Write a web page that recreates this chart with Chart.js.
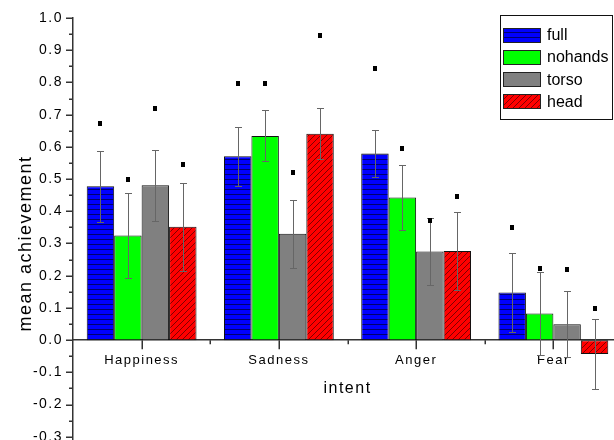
<!DOCTYPE html>
<html>
<head>
<meta charset="utf-8">
<script src="https://cdn.jsdelivr.net/npm/chart.js@4.4.0/dist/chart.umd.min.js"></script>
<style>
    html, body { margin: 0; padding: 0; background: #fff; overflow: hidden; }
    #wrap { position: relative; width: 622px; height: 492px; }
    #legenda {
        position: absolute; left: 500px; top: 15px; width: 111px; height: 103px;
        border: 1px solid #111; background: #fff;
        font-family: 'Liberation Sans', Arial, sans-serif; font-size: 16px; color: #000;
    }
    .item { position: absolute; left: 2px; height: 16px; display: flex; align-items: center; }
    .item canvas { display: block; margin-right: 6px; }
</style>
</head>
<body>
<div id="wrap">
    <canvas id="grafico" width="622" height="492"></canvas>
    <div id="legenda"></div>
</div>
<script>
// Dados
const categorias = ['Happiness', 'Sadness', 'Anger', 'Fear'];
const series = ['full', 'nohands', 'torso', 'head'];

const mediaFull = [0.478, 0.571, 0.579, 0.148];
const erroFull = [0.110, 0.092, 0.072, 0.122];
const marcaFull = [0.673, 0.799, 0.845, 0.350];

const mediaNohands = [0.325, 0.634, 0.443, 0.083];
const erroNohands = [0.131, 0.079, 0.102, 0.130];
const marcaNohands = [0.500, 0.797, 0.597, 0.224];

const mediaTorso = [0.481, 0.330, 0.275, 0.049];
const erroTorso = [0.110, 0.105, 0.104, 0.102];
const marcaTorso = [0.722, 0.521, 0.374, 0.221];

const mediaHead = [0.352, 0.641, 0.277, -0.043];
const erroHead = [0.137, 0.079, 0.120, 0.110];
const marcaHead = [0.547, 0.948, 0.448, 0.099];

const FONTE = "'Liberation Sans', Arial, sans-serif";

function criarPadrao(tipo, cor, corLinha) {
    const c = document.createElement('canvas');
    const p = c.getContext('2d');
    if (tipo === 'horizontal') {
        c.width = 8; c.height = 5;
        p.fillStyle = cor; p.fillRect(0, 0, 8, 5);
        p.fillStyle = corLinha; p.fillRect(0, 4, 8, 1);
    } else if (tipo === 'diagonal') {
        c.width = 6; c.height = 6;
        p.fillStyle = cor; p.fillRect(0, 0, 6, 6);
        p.strokeStyle = corLinha; p.lineWidth = 0.9;
        p.beginPath();
        p.moveTo(-1, 7); p.lineTo(7, -1);
        p.moveTo(-2, 2); p.lineTo(2, -2);
        p.moveTo(4, 8); p.lineTo(8, 4);
        p.stroke();
    } else {
        return cor;
    }
    return p.createPattern(c, 'repeat');
}

const preenchimentos = [
    criarPadrao('horizontal', '#0000ff', '#000070'),
    criarPadrao('solido', '#00ff00'),
    criarPadrao('solido', '#808080'),
    criarPadrao('diagonal', '#ff0000', '#700000')
];

const medias = [mediaFull, mediaNohands, mediaTorso, mediaHead];
const erros = [erroFull, erroNohands, erroTorso, erroHead];
const marcas = [marcaFull, marcaNohands, marcaTorso, marcaHead];

const datasets = series.map((nome, i) => ({
    label: nome,
    data: medias[i],
    erro: erros[i],
    marcador: marcas[i],
    backgroundColor: preenchimentos[i],
    borderColor: '#111',
    borderWidth: 1,
    borderSkipped: false,
    categoryPercentage: 0.8,
    barPercentage: 1.0
}));

// Espaçamento de letras parecido com o original
const pluginEspaco = {
    id: 'espaco',
    beforeLayout(chart) { chart.ctx.letterSpacing = '1.5px'; },
    beforeDraw(chart) { chart.ctx.letterSpacing = '1.5px'; }
};

// Barras de erro e marcadores quadrados
const pluginErros = {
    id: 'barrasErro',
    afterDatasetsDraw(chart) {
        const { ctx } = chart;
        const y = chart.scales.y;
        ctx.save();
        chart.data.datasets.forEach((ds, i) => {
            const meta = chart.getDatasetMeta(i);
            meta.data.forEach((barra, j) => {
                const x = Math.round(barra.x) + 0.5;
                const topo = Math.round(y.getPixelForValue(ds.data[j] + ds.erro[j])) + 0.5;
                const base = Math.round(y.getPixelForValue(ds.data[j] - ds.erro[j])) + 0.5;
                ctx.strokeStyle = '#666';
                ctx.lineWidth = 1;
                ctx.beginPath();
                ctx.moveTo(x, topo); ctx.lineTo(x, base);
                ctx.moveTo(x - 3.5, topo); ctx.lineTo(x + 3.5, topo);
                ctx.moveTo(x - 3.5, base); ctx.lineTo(x + 3.5, base);
                ctx.stroke();

                const ym = Math.round(y.getPixelForValue(ds.marcador[j]));
                ctx.fillStyle = '#000';
                ctx.fillRect(Math.round(barra.x) - 2, ym - 2, 4, 5);
            });
        });
        ctx.restore();
    }
};

// Marcas de escala maiores e menores
const pluginTicks = {
    id: 'ticks',
    afterDraw(chart) {
        const { ctx, chartArea } = chart;
        const x = chart.scales.x;
        const y = chart.scales.y;
        ctx.save();
        ctx.strokeStyle = '#333';
        ctx.lineWidth = 1.5;
        ctx.beginPath();
        for (let k = -8; k <= 20; k++) {
            const py = Math.round(y.getPixelForValue(k * 0.05)) + 0.25;
            const len = (k % 2 === 0) ? 7 : 4;
            ctx.moveTo(chartArea.left, py);
            ctx.lineTo(chartArea.left - len, py);
        }
        const y0 = y.getPixelForValue(0);
        categorias.forEach((c, i) => {
            const pc = Math.round(x.getPixelForValue(i)) + 0.25;
            ctx.moveTo(pc, y0); ctx.lineTo(pc, y0 + 9);
            const pm = Math.round(x.getPixelForValue(i + 0.5)) + 0.25;
            ctx.moveTo(pm, y0); ctx.lineTo(pm, y0 + 4);
        });
        ctx.stroke();
        ctx.restore();
    }
};

Chart.defaults.color = '#000';
Chart.defaults.font.family = FONTE;

new Chart(document.getElementById('grafico'), {
    type: 'bar',
    data: { labels: categorias, datasets: datasets },
    options: {
        responsive: false,
        animation: false,
        devicePixelRatio: 1,
        layout: { padding: { top: 18, bottom: 23, left: 0, right: 0 } },
        plugins: {
            legend: { display: false },
            tooltip: { enabled: false }
        },
        scales: {
            x: {
                type: 'category',
                position: { y: 0 },
                offset: true,
                grid: { display: false, drawTicks: true, tickLength: 9 },
                border: { display: true, color: '#333', width: 1.5 },
                ticks: { font: { size: 13 }, color: '#000', padding: 3, maxRotation: 0, autoSkip: false },
                title: { display: true, text: 'intent', font: { size: 16 }, color: '#000', padding: { top: 8, bottom: 4 } }
            },
            y: {
                min: -0.4,
                max: 1.0,
                grid: { display: false, drawTicks: true, tickLength: 7 },
                border: { display: true, color: '#333', width: 1.5 },
                ticks: {
                    stepSize: 0.1,
                    font: { size: 14 },
                    color: '#000',
                    padding: 3,
                    callback: v => (Math.abs(v) < 1e-9 ? 0 : v).toFixed(1)
                },
                title: { display: true, text: 'mean achievement', font: { size: 18 }, color: '#000', padding: { top: 15, bottom: 0 } },
                afterFit(scale) { scale.width = 73; }
            }
        }
    },
    plugins: [pluginEspaco, pluginErros, pluginTicks]
});

// Legenda em HTML, com as mesmas amostras das barras
const legenda = document.getElementById('legenda');
series.forEach((nome, i) => {
    const item = document.createElement('div');
    item.className = 'item';
    item.style.top = (11 + i * 22.3) + 'px';
    const amostra = document.createElement('canvas');
    amostra.width = 38; amostra.height = 15;
    const a = amostra.getContext('2d');
    a.fillStyle = preenchimentos[i];
    a.fillRect(0, 0, 38, 15);
    a.strokeStyle = '#222';
    a.lineWidth = 1;
    a.strokeRect(0.5, 0.5, 37, 14);
    const texto = document.createElement('span');
    texto.textContent = nome;
    item.appendChild(amostra);
    item.appendChild(texto);
    legenda.appendChild(item);
});
</script>
</body>
</html>
